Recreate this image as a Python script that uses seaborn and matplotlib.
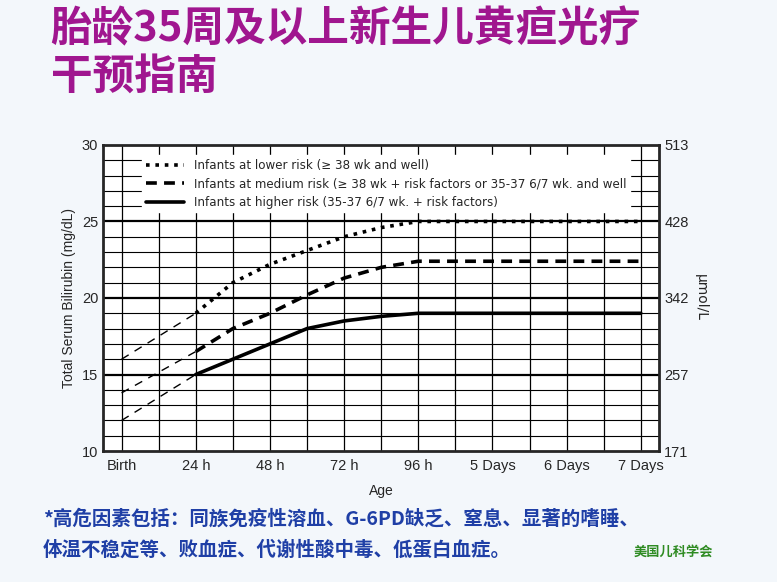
import pandas as pd
import seaborn as sns
import matplotlib.pyplot as plt

sns.set_style("white")
plt.rcParams['font.family'] = ['Liberation Sans', 'Noto Sans CJK SC', 'DejaVu Sans']
cjk = ['Noto Sans CJK SC', 'DejaVu Sans']

# Données (heures, mg/dL)
heures = [24, 36, 48, 60, 72, 84, 96, 168]
bas_risque = [19, 21, 22.2, 23.1, 24, 24.6, 25, 25]
moyen_risque = [16.5, 18, 19, 20.2, 21.3, 22, 22.4, 22.4]
haut_risque = [15, 16, 17, 18, 18.5, 18.8, 19, 19]
naissance = [16, 13.8, 12]  # valeurs extrapolées à la naissance (tirets fins)

tick_heures = [0, 24, 48, 72, 96, 120, 144, 168]
tick_labels = ["Birth", "24 h", "48 h", "72 h", "96 h", "5 Days", "6 Days", "7 Days"]
ticks_gauche = [10, 15, 20, 25, 30]
ticks_droite = ["171", "257", "342", "428", "513"]

legendes = ["Infants at lower risk (≥ 38 wk and well)",
            "Infants at medium risk (≥ 38 wk + risk factors or 35-37 6/7 wk. and well",
            "Infants at higher risk (35-37 6/7 wk. + risk factors)"]

fig = plt.figure(figsize=(7.77, 5.82), dpi=100)
fig.patch.set_facecolor("#f3f7fb")
ax = fig.add_axes([0.1326, 0.225, 0.716, 0.526])

styles = [(0, (1, 1.6)), (0, (3, 2)), "-"]
series = [bas_risque, moyen_risque, haut_risque]
for vals, st, lab, v0 in zip(series, styles, legendes, naissance):
    df = pd.DataFrame({"h": heures, "v": vals})
    sns.lineplot(data=df, x="h", y="v", ax=ax, color="black", lw=2.6,
                 linestyle=st, label=lab)
    d0 = pd.DataFrame({"h": [0, 24], "v": [v0, vals[0]]})
    sns.lineplot(data=d0, x="h", y="v", ax=ax, color="black", lw=1,
                 linestyle=(0, (6, 5)), legend=False)

ax.set_xlim(-6, 174)
ax.set_ylim(10, 30)
for x in range(0, 169, 12):
    ax.axvline(x, color="black", lw=0.9, zorder=0)
for y in range(11, 30):
    ax.axhline(y, color="black", lw=1.6 if y % 5 == 0 else 0.8, zorder=0)
ax.set_xticks(tick_heures)
ax.set_xticklabels(tick_labels, fontsize=10.5)
ax.set_yticks(ticks_gauche)
ax.tick_params(axis="y", labelsize=10.5, length=0)
ax.tick_params(axis="x", length=0, pad=6)
ax.set_xlabel("Age", fontsize=10, labelpad=8)
ax.set_ylabel("Total Serum Bilirubin (mg/dL)", fontsize=10)
for s in ax.spines.values():
    s.set_linewidth(2)

leg = ax.legend(loc="upper left", bbox_to_anchor=(0.06, 0.985),
                frameon=True, fancybox=False, edgecolor="white",
                handlelength=3.2, borderpad=0.3, labelspacing=0.45,
                prop={'family': ['DejaVu Sans'], 'size': 8.6})
leg.get_frame().set_facecolor("white")
leg.get_frame().set_alpha(1)

ax2 = ax.twinx()
ax2.set_ylim(10, 30)
ax2.set_yticks(ticks_gauche)
ax2.set_yticklabels(ticks_droite, fontsize=10.5)
ax2.tick_params(length=0)
ax2.set_ylabel("μmol/L", fontsize=10, rotation=270, labelpad=14, family=['DejaVu Sans'])
for s in ax2.spines.values():
    s.set_visible(False)

fig.text(0.065, 0.985, "胎龄35周及以上新生儿黄疸光疗\n干预指南", fontsize=30,
         fontweight="bold", color="#a0168f", va="top", linespacing=1.15, family=cjk)
fig.text(0.055, 0.108, "*高危因素包括：同族免疫性溶血、G-6PD缺乏、窒息、显著的嗜睡、",
         fontsize=14, fontweight="bold", color="#1f3fa6", va="center", family=cjk)
fig.text(0.055, 0.055, "体温不稳定等、败血症、代谢性酸中毒、低蛋白血症。",
         fontsize=14, fontweight="bold", color="#1f3fa6", va="center", family=cjk)
fig.text(0.815, 0.052, "美国儿科学会", fontsize=9.5, fontweight="bold",
         color="#2e8b22", va="center", family=cjk)

fig.savefig("out.png", dpi=100, facecolor=fig.get_facecolor())
